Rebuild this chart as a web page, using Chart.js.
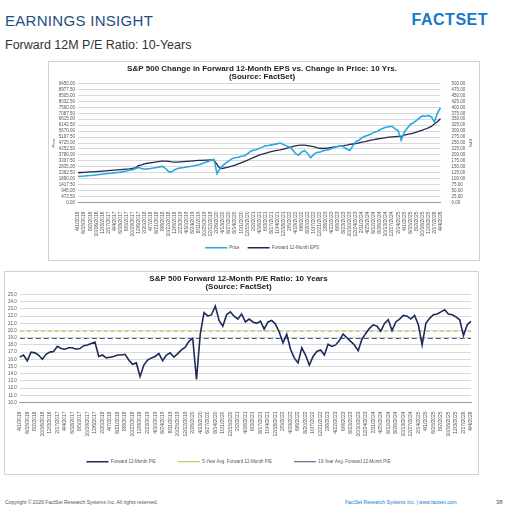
<!DOCTYPE html>
<html>
<head>
<meta charset="utf-8">
<script src="https://cdn.jsdelivr.net/npm/chart.js@4.4.0/dist/chart.umd.min.js"></script>
<style>
  body { margin: 0; width: 506px; height: 509px; background: #fff; font-family: "Liberation Sans", Arial, sans-serif; position: relative; overflow: hidden; }
  .hdr { position: absolute; left: 5px; top: 12px; font-size: 15px; color: #1d4f7c; letter-spacing: 0.3px; }
  .logo { position: absolute; right: 18px; top: 11px; font-size: 16px; font-weight: bold; color: #1479c9; letter-spacing: 0.5px; }
  .sub { position: absolute; left: 5px; top: 38px; font-size: 12.5px; color: #333; }
  .box { position: absolute; border: 1px solid #d0d0d0; background: #fff; }
  .box canvas { display: block; }
  .foot { position: absolute; top: 499px; font-size: 5px; color: #555; }
</style>
</head>
<body>
<div class="hdr">EARNINGS INSIGHT</div>
<div class="logo">FACTSET</div>
<div class="sub">Forward 12M P/E Ratio: 10-Years</div>
<div class="box" style="left:48px; top:61px; width:430px; height:198px;"><canvas id="top" width="430" height="198"></canvas></div>
<div class="box" style="left:4px; top:271px; width:473px; height:202px;"><canvas id="pe" width="473" height="202"></canvas></div>
<div class="foot" style="left:5px;">Copyright © 2026 FactSet Research Systems Inc. All rights reserved.</div>
<div class="foot" style="left:345px; color:#1479c9;">FactSet Research Systems Inc. | www.factset.com</div>
<div class="foot" style="left:496px; font-size:6px;">38</div>
<script>
// monthly points, Apr 2016 .. Apr 2026
var labels = [];
for (var m = 0; m <= 120; m++) {
    var mo = (3 + m) % 12 + 1;
    var yr = 2016 + Math.floor((3 + m) / 12);
    labels.push(mo + "/" + (1 + (m * 7) % 27) + "/" + yr);
}

var price = [2060,2090,2100,2120,2140,2160,2190,2220,2250,2280,2300,2320,2350,2380,2410,2450,2500,2560,2610,2680,
    2790,2700,2640,2680,2700,2740,2780,2830,2870,2700,2450,2420,2600,2700,2750,2780,2830,2860,2900,2960,
    3000,3080,3180,3250,3350,3440,2300,2700,2950,3150,3300,3480,3550,3600,3680,3700,3850,4050,4150,4190,
    4300,4400,4500,4530,4580,4620,4680,4730,4600,4500,4400,4200,3900,3760,4000,4130,3900,3550,3800,3980,
    4000,4085,4150,4200,4300,4380,4450,4515,4400,4250,4130,4500,4840,4950,5150,5270,5350,5450,5590,5650,
    5780,5910,5980,6020,6060,5850,5700,4950,5590,5900,6200,6340,6500,6700,6880,6850,6920,6800,6400,7100,7525];

var eps = [125,126,127,128,129,129,130,131,132,133,134,135,136,137,138,139,140,141,143,145,
    155,158,162,165,167,169,171,173,174,174,173,171,170,170,171,172,173,174,175,176,
    177,177,178,178,179,178,160,143,144,147,150,153,157,162,167,172,177,183,189,194,
    199,203,207,211,214,217,219,221,224,228,232,235,238,240,241,241,239,237,235,231,
    228,227,228,230,232,234,236,238,239,241,244,246,248,251,254,256,259,262,264,267,
    269,271,273,275,276,277,278,278,283,286,289,292,296,300,304,309,314,320,330,340,352];

var pe = [16.3,16.6,15.8,17.0,16.9,16.6,16.0,16.7,17.0,17.1,17.8,17.5,17.4,17.6,17.6,17.4,17.5,17.9,18.0,18.2,
    18.4,16.4,16.6,16.2,16.3,16.4,16.6,16.6,16.7,15.9,15.3,15.5,13.6,15.2,15.9,16.2,16.4,16.8,15.8,16.6,
    16.9,16.3,16.8,17.3,17.7,18.5,18.9,13.2,19.5,22.5,22.0,22.2,23.4,21.4,20.6,22.2,22.6,22.0,21.6,22.3,
    21.2,21.6,21.2,21.0,21.3,20.2,21.2,21.4,20.9,19.8,18.3,19.5,17.4,16.2,15.5,17.6,16.6,15.2,16.4,17.1,
    17.3,16.6,18.1,17.8,18.0,18.6,19.5,19.0,18.5,18.0,17.2,18.8,19.6,20.3,20.8,20.6,19.9,21.0,21.5,20.0,
    21.2,21.6,22.1,22.0,21.6,22.1,20.8,18.0,21.0,21.7,22.2,22.3,22.6,22.9,22.3,22.2,21.9,21.5,19.3,20.8,21.3];

var avg5 = 19.9;
var avg10 = 18.9;
var priceTicks = [0,472.5,945,1417.5,1890,2362.5,2835,3307.5,3780,4252.5,4725,5197.5,5670,6142.5,6615,7087.5,7560,8032.5,8505,8977.5,9450];

var tickFont = { size: 4.5, family: "Liberation Sans" };
var gridCol = "#d9d9d9";

function xAxis() {
    return {
        grid: { display: false },
        border: { color: "#999" },
        ticks: { font: { size: 5, family: "Liberation Sans" }, color: "#555", maxRotation: 90, minRotation: 90, autoSkip: false,
            callback: function (v, i) { return i % 2 === 0 ? labels[i] : null; }, padding: 1 }
    };
}

var legendLabels = { font: { size: 4.5 }, color: "#555", usePointStyle: true, pointStyle: "line", pointStyleWidth: 22, boxWidth: 22, boxHeight: 2, padding: 8 };

new Chart(document.getElementById("top"), {
    type: "line",
    data: {
        labels: labels,
        datasets: [
            { label: "Price", data: price, yAxisID: "y", borderColor: "#29a8e0", backgroundColor: "#29a8e0", borderWidth: 1.6, pointRadius: 0, pointStyle: "line" },
            { label: "Forward 12-Month EPS", data: eps, yAxisID: "y1", borderColor: "#1f2a4d", backgroundColor: "#1f2a4d", borderWidth: 1.3, pointRadius: 0, pointStyle: "line" }
        ]
    },
    options: {
        responsive: false, animation: false,
        layout: { padding: { left: 2, right: 6, top: 0, bottom: 0 } },
        plugins: {
            title: { display: true, text: ["S&P 500 Change in Forward 12-Month EPS vs. Change in Price: 10 Yrs.", "(Source: FactSet)"],
                font: { size: 8, weight: "bold", family: "Liberation Sans", lineHeight: 1.1 }, color: "#222", padding: { top: 2, bottom: 2 } },
            legend: { position: "bottom", labels: legendLabels }
        },
        scales: {
            x: xAxis(),
            y: {
                min: 0, max: 9450, afterBuildTicks: function (a) { a.ticks = priceTicks.map(function (v) { return { value: v }; }); },
                grid: { color: gridCol, drawTicks: false }, border: { display: false },
                ticks: { autoSkip: false, font: tickFont, color: "#555", padding: 3, callback: function (v) { return v.toFixed(2); } },
                title: { display: true, text: "Price", font: { size: 4 }, color: "#555", padding: 0 }
            },
            y1: {
                position: "right", min: 0, max: 500,
                grid: { display: false }, border: { display: false },
                ticks: { autoSkip: false, stepSize: 25, font: tickFont, color: "#555", padding: 3, callback: function (v) { return v.toFixed(2); } },
                title: { display: true, text: "EPS", font: { size: 4 }, color: "#555", padding: 0 }
            }
        }
    }
});

new Chart(document.getElementById("pe"), {
    type: "line",
    data: {
        labels: labels,
        datasets: [
            { label: "Forward 12-Month P/E", data: pe, borderColor: "#1f2a5c", backgroundColor: "#1f2a5c", borderWidth: 1.6, pointRadius: 0, pointStyle: "line" },
            { label: "5-Year Avg. Forward 12-Month P/E", data: labels.map(function () { return avg5; }), borderColor: "#a8c83c", backgroundColor: "#a8c83c", borderWidth: 1, borderDash: [4, 3], pointRadius: 0, pointStyle: "line" },
            { label: "10-Year Avg. Forward 12-Month P/E", data: labels.map(function () { return avg10; }), borderColor: "#3a5077", backgroundColor: "#3a5077", borderWidth: 1, borderDash: [5, 3], pointRadius: 0, pointStyle: "line" }
        ]
    },
    options: {
        responsive: false, animation: false,
        layout: { padding: { left: 0, right: 6, top: 0, bottom: 0 } },
        plugins: {
            title: { display: true, text: ["S&P 500 Forward 12-Month P/E Ratio: 10 Years", "(Source: FactSet)"],
                font: { size: 8, weight: "bold", family: "Liberation Sans", lineHeight: 1.1 }, color: "#222", padding: { top: 2, bottom: 3 } },
            legend: { position: "bottom", labels: Object.assign({}, legendLabels, { padding: 22 }) }
        },
        scales: {
            x: xAxis(),
            y: {
                min: 10, max: 25,
                grid: { color: gridCol, drawTicks: false }, border: { display: false },
                ticks: { autoSkip: false, stepSize: 1, font: tickFont, color: "#555", padding: 3, callback: function (v) { return v.toFixed(1); } }
            }
        }
    }
});
</script>
</body>
</html>
